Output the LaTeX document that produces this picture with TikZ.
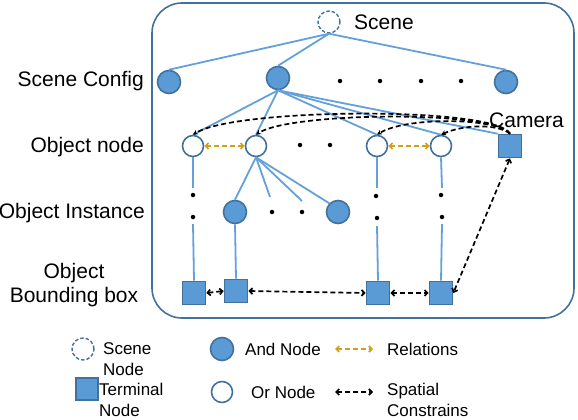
\documentclass[tikz,border=0pt]{standalone}
\usepackage{fontspec}
\setmainfont{Liberation Sans}
\usetikzlibrary{arrows.meta}
\definecolor{bfill}{RGB}{91,155,213}
\definecolor{bdraw}{RGB}{65,113,156}
\definecolor{bline}{RGB}{100,160,218}
\definecolor{relc}{RGB}{212,160,23}
\begin{document}
\begin{tikzpicture}[x=1pt,y=-1pt,
  andnode/.style={circle,fill=bfill,draw=bdraw,line width=1.6pt,minimum size=23pt,inner sep=0pt},
  ornode/.style={circle,fill=white,draw=bdraw,line width=1.6pt,minimum size=21pt,inner sep=0pt},
  scenenode/.style={circle,draw=bdraw,line width=1.4pt,minimum size=22pt,inner sep=0pt,dash pattern=on 3.5pt off 2pt},
  termnode/.style={rectangle,fill=bfill,draw=bdraw,line width=1.6pt,minimum size=23pt,inner sep=0pt},
  tedge/.style={draw=bline,line width=1.8pt},
  dotn/.style={circle,fill=black,inner sep=0pt,minimum size=4.5pt},
  spatial/.style={draw=black,line width=1.7pt,dash pattern=on 5pt off 3pt,{Straight Barb[length=3pt,width=6pt]}-{Straight Barb[length=3pt,width=6pt]}},
  curv/.style={draw=black,line width=1.7pt,dash pattern=on 5pt off 3pt,-{Stealth[length=5pt,width=5pt]}},
  relation/.style={draw=relc,line width=1.7pt,dash pattern=on 5pt off 3pt,{Straight Barb[length=3pt,width=6pt]}-{Straight Barb[length=3pt,width=6pt]}},
  lbl/.style={font=\fontsize{21}{24}\selectfont,inner sep=0pt},
  leg/.style={font=\fontsize{17}{21}\selectfont,inner sep=0pt,align=left,anchor=west}]
\useasboundingbox (0,0) rectangle (578,420);
% outer frame
\draw[draw=bdraw,line width=1.6pt,rounded corners=30pt] (152,3) rectangle (574,318);

% scene
\node[scenenode] (scene) at (329,22) {};
\node[lbl,anchor=west] (scenelbl) at (354,22) {Scene};

% scene config
\node[andnode] (c1) at (169,82) {};
\node[andnode] (c2) at (278,78) {};
\node[andnode] (c3) at (506,82) {};
\node[dotn] (d1) at (340,81) {};
\node[dotn] (d2) at (380,81) {};
\node[dotn] (d3) at (421,81) {};
\node[dotn] (d4) at (461,81) {};

% object nodes
\node[ornode] (o1) at (193,146) {};
\node[ornode] (o2) at (256,146) {};
\node[ornode] (o3) at (377,146) {};
\node[ornode] (o4) at (441,146) {};
\node[termnode] (cam) at (510,146) {};
\node[lbl,anchor=west] (camlbl) at (489,120) {Camera};
\node[dotn] (d5) at (300,145) {};
\node[dotn] (d6) at (330,145) {};

% object instances
\node[andnode] (a1) at (235,212) {};
\node[andnode] (a2) at (338,212) {};
\node[dotn] (d7) at (272,212) {};
\node[dotn] (d8) at (302,212) {};
\node[dotn] (e1) at (193,195) {};
\node[dotn] (e2) at (193,217) {};
\node[dotn] (e3) at (376,196) {};
\node[dotn] (e4) at (377,218) {};
\node[dotn] (e5) at (441,195) {};
\node[dotn] (e6) at (442,217) {};

% terminals
\node[termnode] (t1) at (194,293) {};
\node[termnode] (t2) at (236,291) {};
\node[termnode] (t3) at (378,293) {};
\node[termnode] (t4) at (441,293) {};

% helper coordinates
\coordinate (u1) at (193,188);
\coordinate (l1) at (193,224);
\coordinate (u3) at (377,188);
\coordinate (l3) at (377,226);
\coordinate (u4) at (442,188);
\coordinate (l4) at (442,224);
\coordinate (f1) at (270,197);
\coordinate (f2) at (302,201);

% tree edges
\draw[tedge] (scene.south) -- (c1.north);
\draw[tedge] (scene.south) -- (c2.north);
\draw[tedge] (scene.south) -- (c3.north);
\draw[tedge] (c2.south) -- (o1.north);
\draw[tedge] (c2.south) -- (o2.north);
\draw[tedge] (c2.south) -- (o3.north);
\draw[tedge] (c2.south) -- (o4.north);
\draw[tedge] (c2.south) -- (cam.north west);
\draw[tedge] (o1.south) -- (u1);
\draw[tedge] (l1) -- (t1.north);
\draw[tedge] (o2.south) -- (a1.north);
\draw[tedge] (o2.south) -- (f1);
\draw[tedge] (o2.south) -- (f2);
\draw[tedge] (o2.south) -- (a2.north west);
\draw[tedge] (a1.south) -- (t2.north);
\draw[tedge] (o3.south) -- (u3);
\draw[tedge] (l3) -- (t3.north);
\draw[tedge] (o4.south) -- (u4);
\draw[tedge] (l4) -- (t4.north);

% relations
\draw[relation] (o1.east) -- (o2.west);
\draw[relation] (o3.east) -- (o4.west);

% spatial constraints
\draw[curv] (cam.north) .. controls (495,106) and (235,108) .. (o1.north);
\draw[curv] (cam.north) .. controls (495,110) and (290,112) .. (o2.north);
\draw[curv] (cam.north) .. controls (495,117) and (405,117) .. (o3.north);
\draw[curv] (cam.north) .. controls (498,124) and (465,124) .. (o4.north);
\draw[spatial] (t1.east) -- (t2.west);
\draw[spatial] (t2.east) -- (t3.west);
\draw[spatial] (t3.east) -- (t4.west);
\draw[spatial] (cam.south) -- (t4.east);

% row labels
\node[lbl,anchor=east] (r1) at (144,81) {Scene Config};
\node[lbl,anchor=east] (r2) at (144,147) {Object node};
\node[lbl,anchor=east] (r3) at (145,213) {Object Instance};
\node[lbl,align=center] (r4) at (74,285) {Object\\Bounding box};

% legend
\node[scenenode] (lscene) at (83,349) {};
\node[leg] (lscenet) at (103,359) {Scene\\Node};
\node[termnode,minimum size=22pt] (lterm) at (87,389) {};
\node[leg] (ltermt) at (99,400) {Terminal\\Node};
\node[andnode] (land) at (222,349) {};
\node[leg] (landt) at (245,349) {And Node};
\node[ornode] (lor) at (222,392) {};
\node[leg] (lort) at (251,392) {Or Node};
\coordinate (ra) at (335,349);
\coordinate (rb) at (373,349);
\draw[relation] (ra) -- (rb);
\node[leg] (relt) at (387,349) {Relations};
\coordinate (sa) at (335,392);
\coordinate (sb) at (373,392);
\draw[spatial] (sa) -- (sb);
\node[leg] (spt) at (387,400) {Spatial\\Constrains};
\end{tikzpicture}
\end{document}
